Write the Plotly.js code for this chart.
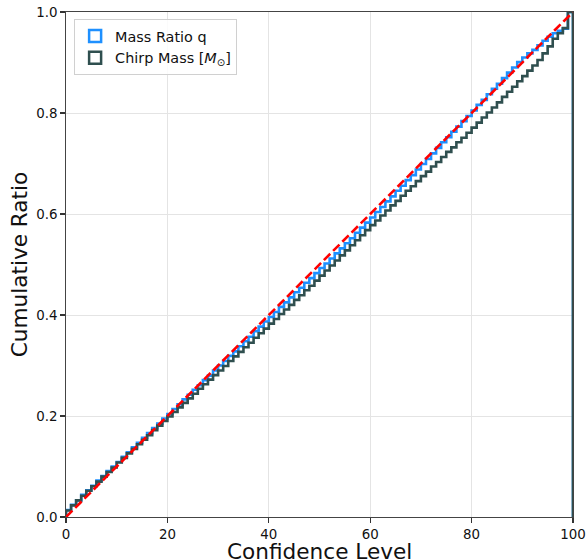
<!DOCTYPE html>
<html>
<head>
<meta charset="utf-8">
<script src="https://cdn.plot.ly/plotly-3.0.1.min.js"></script>
<style>
  html, body { margin: 0; padding: 0; background: #ffffff; }
  #chart { width: 587px; height: 559px; }
</style>
</head>
<body>
<div id="chart"></div>
<script>
// Bin edges (confidence level, %)
const binEdges = [0,1,2,3,4,5,6,7,8,9,10,11,12,13,14,15,16,17,18,19,20,21,22,23,24,25,26,27,28,29,30,
  31,32,33,34,35,36,37,38,39,40,41,42,43,44,45,46,47,48,49,50,51,52,53,54,55,56,57,58,59,60,
  61,62,63,64,65,66,67,68,69,70,71,72,73,74,75,76,77,78,79,80,81,82,83,84,85,86,87,88,89,90,
  91,92,93,94,95,96,97,98,99,100];

// Cumulative ratio per bin (one value per bin, bins [k, k+1])
const massRatioQ = [0.014,0.024,0.033,0.044,0.053,0.062,0.072,0.081,0.091,0.100,
  0.109,0.119,0.128,0.138,0.147,0.157,0.166,0.176,0.185,0.195,
  0.204,0.214,0.223,0.233,0.242,0.252,0.261,0.271,0.280,0.290,
  0.300,0.309,0.319,0.328,0.338,0.348,0.357,0.368,0.377,0.387,
  0.396,0.406,0.416,0.425,0.435,0.445,0.454,0.464,0.473,0.483,
  0.493,0.502,0.512,0.522,0.532,0.542,0.552,0.563,0.573,0.583,
  0.593,0.604,0.614,0.625,0.635,0.646,0.656,0.667,0.677,0.688,
  0.699,0.709,0.720,0.731,0.742,0.752,0.763,0.773,0.784,0.794,
  0.805,0.816,0.826,0.837,0.848,0.858,0.869,0.880,0.890,0.901,
  0.910,0.918,0.925,0.934,0.943,0.951,0.958,0.963,0.967,1.000];

const chirpMass = [0.013,0.023,0.033,0.042,0.052,0.061,0.070,0.080,0.089,0.098,
  0.108,0.117,0.126,0.135,0.144,0.153,0.162,0.172,0.181,0.190,
  0.199,0.208,0.217,0.226,0.235,0.244,0.254,0.263,0.272,0.281,
  0.290,0.299,0.309,0.318,0.327,0.336,0.345,0.355,0.364,0.373,
  0.383,0.392,0.402,0.411,0.420,0.430,0.439,0.449,0.458,0.468,
  0.478,0.488,0.498,0.508,0.518,0.528,0.538,0.548,0.558,0.568,
  0.578,0.587,0.597,0.607,0.617,0.626,0.636,0.646,0.655,0.665,
  0.675,0.684,0.694,0.703,0.713,0.723,0.732,0.742,0.751,0.761,
  0.771,0.781,0.791,0.801,0.811,0.821,0.832,0.842,0.852,0.863,
  0.873,0.884,0.894,0.905,0.918,0.932,0.947,0.958,0.968,1.000];

// Reference diagonal
const diagX = [0, 100];
const diagY = [0, 1];

const seriesNames = ['Mass Ratio q', 'Chirp Mass [<i>M</i><sub>⊙</sub>]'];
const seriesColors = ['#1e90ff', '#2f4f4f'];
const xTitle = 'Confidence Level';
const yTitle = 'Cumulative Ratio';

// Build a matplotlib-style "step" histogram outline from bin edges + values
function stepPath(edges, vals) {
  const x = [edges[0]], y = [0];
  for (let i = 0; i < vals.length; i++) { x.push(edges[i]); y.push(vals[i]); }
  x.push(edges[edges.length - 1]); y.push(vals[vals.length - 1]);
  x.push(edges[edges.length - 1]); y.push(0);
  return {x, y};
}

const pq = stepPath(binEdges, massRatioQ);
const pc = stepPath(binEdges, chirpMass);

const traces = [
  // legend patches
  {type: 'bar', x: [null], y: [null], name: seriesNames[0], showlegend: true, hoverinfo: 'skip',
   marker: {color: 'rgba(255,255,255,0)', line: {color: seriesColors[0], width: 2.5}}},
  {type: 'bar', x: [null], y: [null], name: seriesNames[1], showlegend: true, hoverinfo: 'skip',
   marker: {color: 'rgba(255,255,255,0)', line: {color: seriesColors[1], width: 2.5}}},
  {type: 'scatter', mode: 'lines', x: pq.x, y: pq.y, name: seriesNames[0], showlegend: false,
   line: {color: seriesColors[0], width: 2.6, shape: 'hv'}},
  {type: 'scatter', mode: 'lines', x: pc.x, y: pc.y, name: seriesNames[1], showlegend: false,
   line: {color: seriesColors[1], width: 2.6, shape: 'hv'}},
  {type: 'scatter', mode: 'lines', x: diagX, y: diagY, showlegend: false,
   line: {color: '#ff0000', width: 2.6, dash: '9px,4px'}}
];

const axisCommon = {
  showline: true, linecolor: '#444', linewidth: 1.2, mirror: true,
  ticks: 'outside', ticklen: 4.5, tickwidth: 1.1, tickcolor: '#333',
  showgrid: true, gridcolor: '#e4e4e4', gridwidth: 1,
  zeroline: false, automargin: false,
  tickfont: {family: 'DejaVu Sans', size: 13.4, color: '#111'}
};

const layout = {
  width: 587, height: 559,
  margin: {l: 66, r: 14, t: 12, b: 42},
  paper_bgcolor: '#ffffff', plot_bgcolor: '#ffffff',
  font: {family: 'DejaVu Sans', color: '#111'},
  showlegend: true,
  legend: {
    x: 0.016, y: 0.986, xanchor: 'left', yanchor: 'top',
    bgcolor: 'rgba(255,255,255,0.85)', bordercolor: '#d0d0d0', borderwidth: 1,
    font: {family: 'DejaVu Sans', size: 14.4, color: '#111'},
    tracegroupgap: 0
  },
  xaxis: Object.assign({}, axisCommon, {
    range: [0, 100], tickvals: [0, 20, 40, 60, 80, 100]
  }),
  yaxis: Object.assign({}, axisCommon, {
    range: [0, 1], tickvals: [0, 0.2, 0.4, 0.6, 0.8, 1.0], tickformat: '.1f',
    title: {text: yTitle, font: {family: 'DejaVu Sans', size: 21.6, color: '#111'}, standoff: 2}
  }),
  annotations: [{
    text: xTitle, xref: 'paper', yref: 'paper', x: 0.5, y: 0,
    xanchor: 'center', yanchor: 'top', yshift: -20, showarrow: false,
    font: {family: 'DejaVu Sans', size: 21.6, color: '#111'}
  }]
};

Plotly.newPlot('chart', traces, layout, {displayModeBar: false, staticPlot: true});
</script>
</body>
</html>
